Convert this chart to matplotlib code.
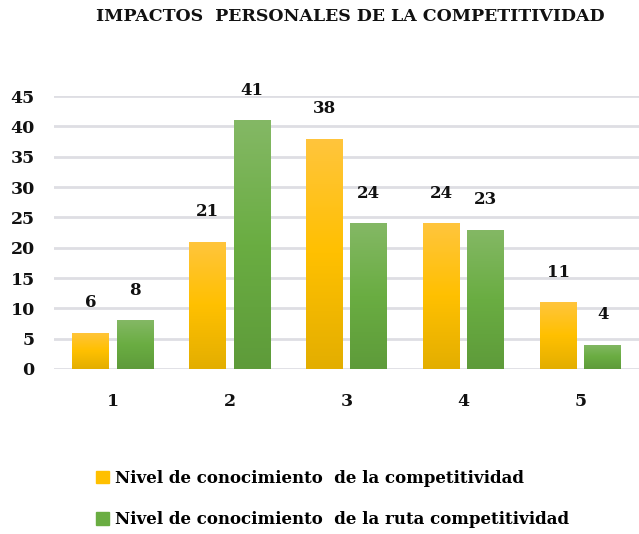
import numpy as np
import matplotlib
matplotlib.use("Agg")
import matplotlib.pyplot as plt
from matplotlib.colors import LinearSegmentedColormap

categories = ["1", "2", "3", "4", "5"]
competitividad = [6, 21, 38, 24, 11]
ruta = [8, 41, 24, 23, 4]
series_labels = ["Nivel de conocimiento  de la competitividad",
                 "Nivel de conocimiento  de la ruta competitividad"]

plt.rcParams['font.family'] = ['DejaVu Serif']
plt.rcParams['font.weight'] = 'bold'

fig = plt.figure(figsize=(6.39, 5.34), dpi=100)
ax = fig.add_axes([0.085, 0.309, 0.915, 0.511])

x = np.arange(len(categories))
w = 0.315
off = 0.19

yellow_cmap = LinearSegmentedColormap.from_list("y", ["#E3AE00", "#FFC000", "#FFC53D"])
green_cmap = LinearSegmentedColormap.from_list("g", ["#5E9B3A", "#6AAD42", "#84B865"])

def gradient_bars(xs, vals, cmap, solid):
    bars = ax.bar(xs, vals, w, color=solid, zorder=2)
    grad = np.linspace(0, 1, 256).reshape(-1, 1)
    for b in bars:
        x0, y0 = b.get_x(), b.get_y()
        im = ax.imshow(grad, cmap=cmap, origin="lower", aspect="auto",
                       extent=[x0, x0 + b.get_width(), y0, y0 + b.get_height()],
                       zorder=3)
        im.set_clip_path(b)
        b.set_facecolor("none")
    for xi, v in zip(xs, vals):
        ax.annotate(str(v), (xi, v), xytext=(0, 15.5), textcoords="offset points",
                    ha="center", va="bottom", fontsize=12, fontweight="bold",
                    color="#111111", annotation_clip=False)
    return bars

gradient_bars(x - off, competitividad, yellow_cmap, "#FFC000")
gradient_bars(x + off, ruta, green_cmap, "#6AAD42")

ax.set_xlim(-0.5, 4.5)
ax.set_ylim(0, 45)
ax.set_yticks(range(0, 46, 5))
ax.set_xticks(x)
ax.set_xticklabels(categories)
ax.yaxis.grid(True, color="#DEDEE3", linewidth=2, zorder=0)
ax.set_axisbelow(True)
for s in ax.spines.values():
    s.set_visible(False)
ax.tick_params(axis="both", length=0, labelsize=12.5, colors="#111111")
ax.tick_params(axis="x", pad=17)
ax.tick_params(axis="y", pad=14)

fig.text(0.548, 0.97, "IMPACTOS  PERSONALES DE LA COMPETITIVIDAD",
         ha="center", va="center", fontsize=12.5, fontweight="bold", color="#111111")

handles = [plt.Rectangle((0, 0), 1, 1, color="#FFC000"),
           plt.Rectangle((0, 0), 1, 1, color="#6AAD42")]
fig.legend(handles, series_labels, loc="upper left", bbox_to_anchor=(0.14, 0.132),
           bbox_transform=fig.transFigure, frameon=False, fontsize=12,
           handlelength=0.75, handleheight=0.75, handletextpad=0.4,
           labelspacing=1.45, borderaxespad=0)

fig.savefig("out.png", dpi=100)
